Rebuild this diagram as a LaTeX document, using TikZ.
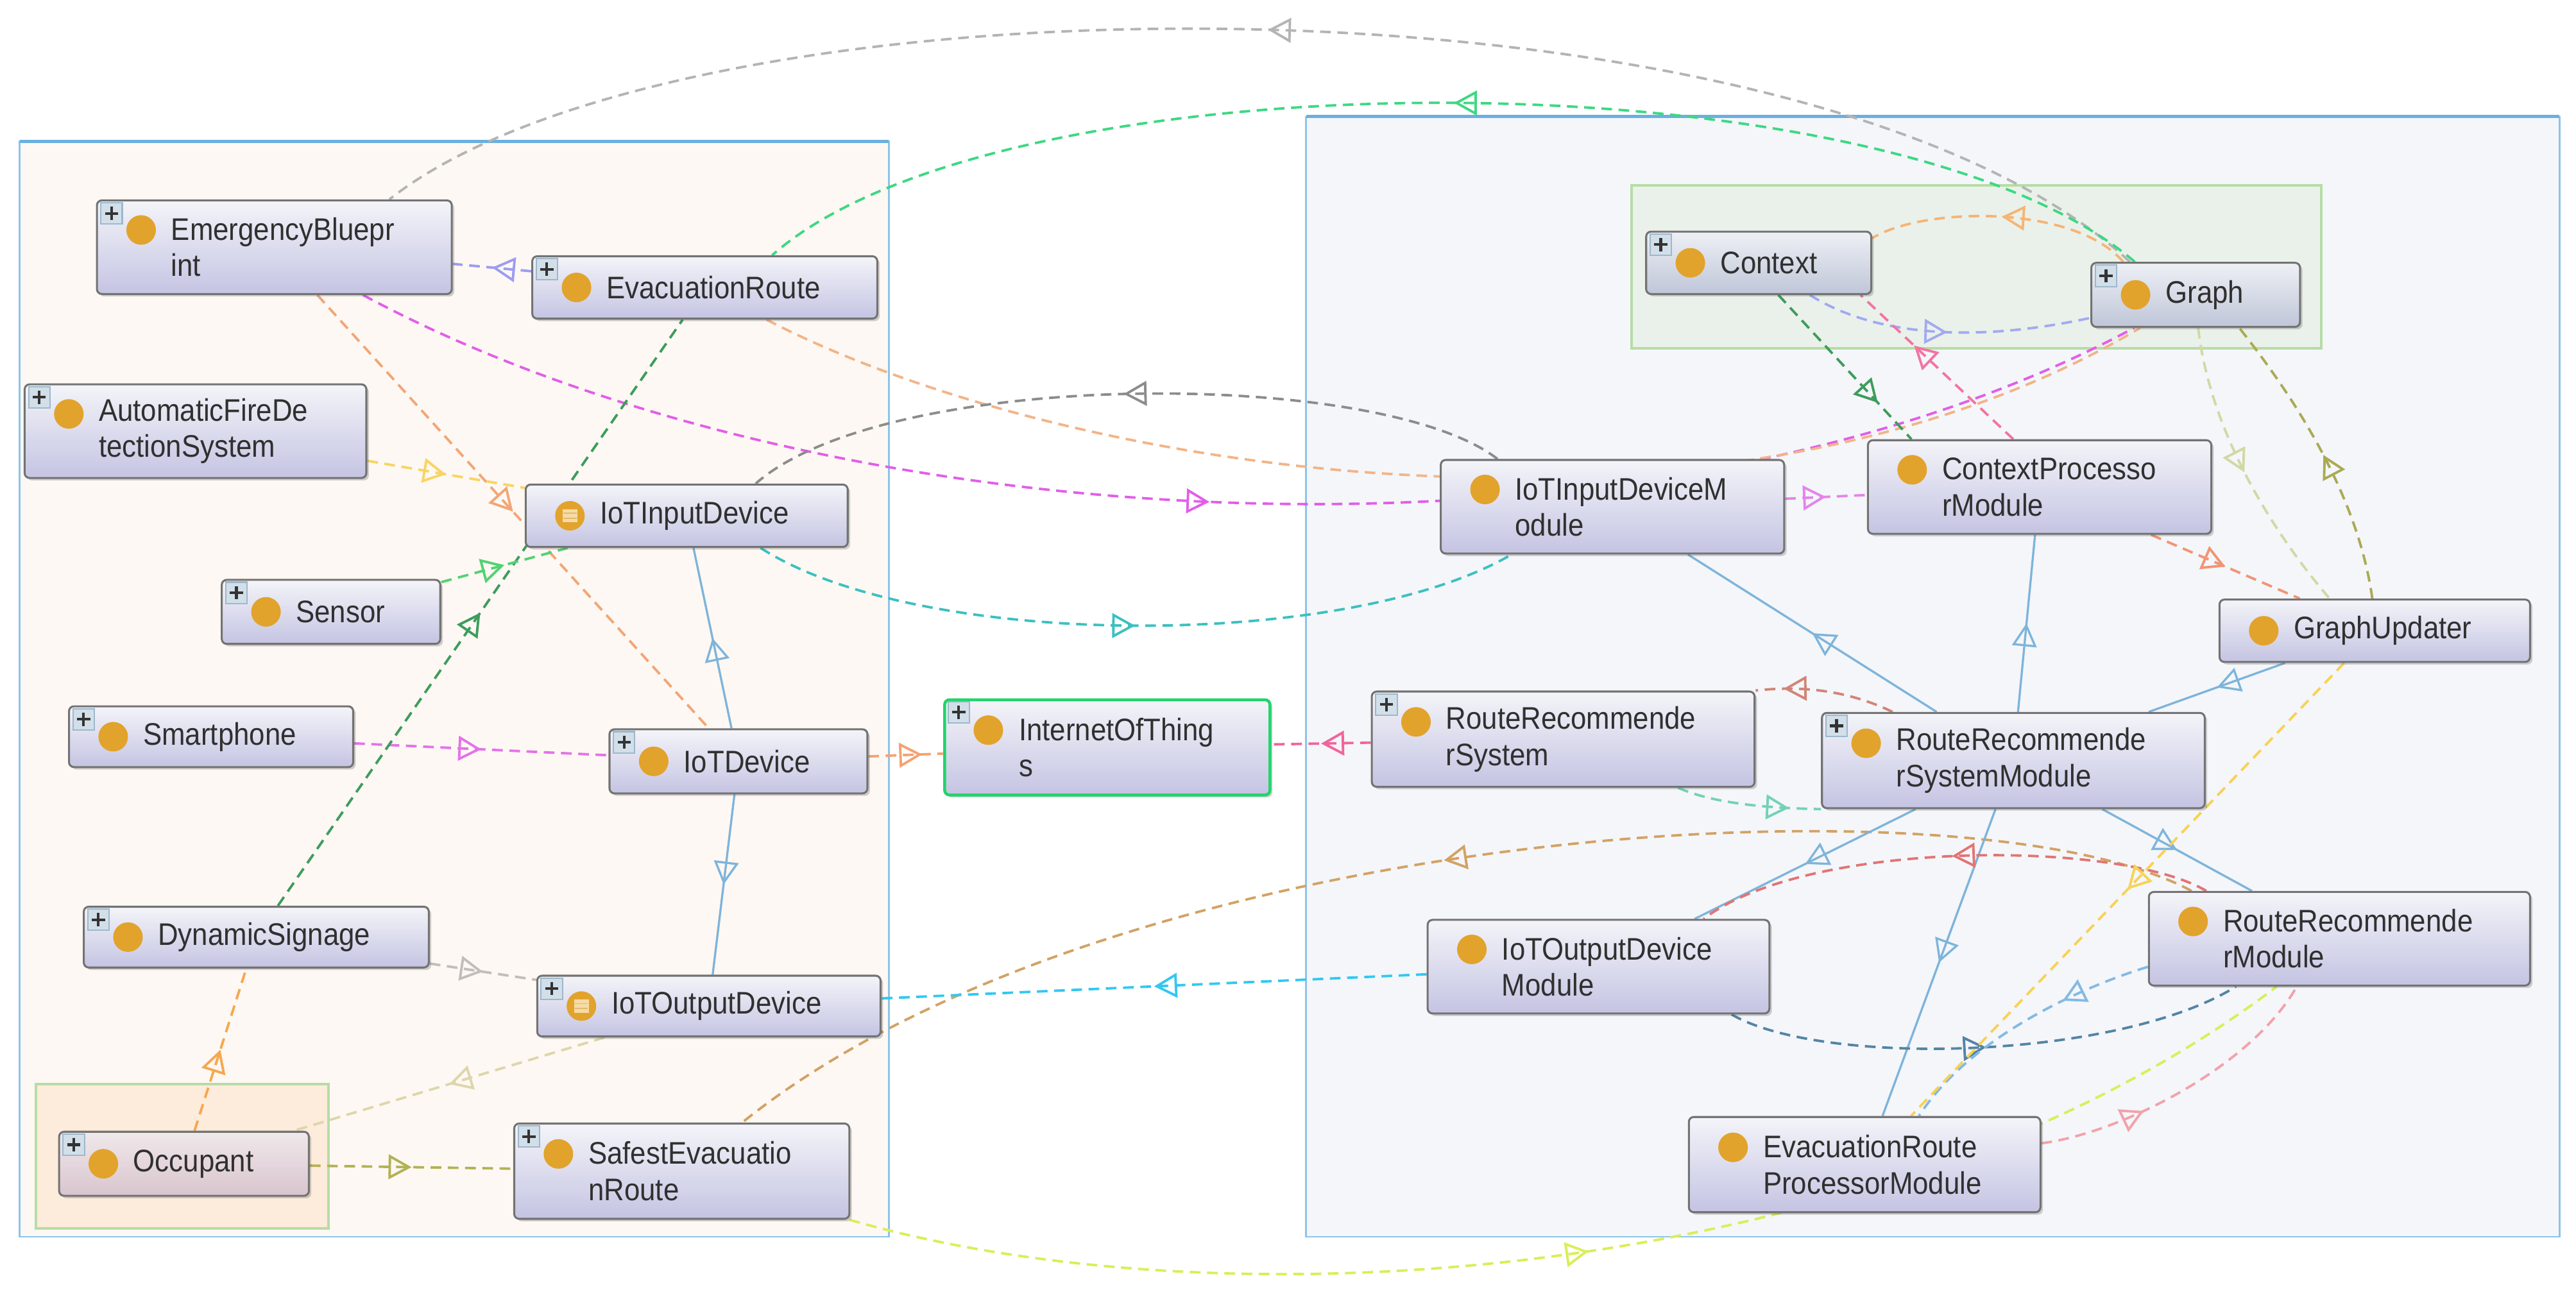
\documentclass[tikz,border=0pt]{standalone}
\usepackage{fontspec}
\newfontfamily\lblfont{Liberation Sans}[FakeStretch=0.9]
\usetikzlibrary{arrows.meta,decorations.markings,calc,shadows}
\pgfdeclarelayer{bg}
\pgfdeclarelayer{edges}
\pgfsetlayers{bg,edges,main}
\definecolor{lbox}{HTML}{FDF8F3}
\definecolor{rbox}{HTML}{F4F6FA}
\definecolor{boxbd}{HTML}{8CC4EA}
\definecolor{boxtop}{HTML}{6AB0E0}
\definecolor{gbox}{HTML}{EAF1EA}
\definecolor{gboxbd}{HTML}{B6DCA6}
\definecolor{obox}{HTML}{FDEBDB}
\definecolor{ntop}{HTML}{F4F4F9}
\definecolor{nbot}{HTML}{C4C4E3}
\definecolor{nbd}{HTML}{737373}
\definecolor{ctop}{HTML}{EEF0F5}
\definecolor{cbot}{HTML}{BFC6D8}
\definecolor{otop}{HTML}{F0E8EB}
\definecolor{obot}{HTML}{D8C5CD}
\definecolor{dotc}{HTML}{E2A32C}
\definecolor{txt}{HTML}{303030}
\definecolor{plusbg}{HTML}{D2DFE9}
\definecolor{plusbd}{HTML}{9DB8CC}
\definecolor{iotg}{HTML}{22D46C}
\definecolor{eqc}{HTML}{F6DBA4}
\definecolor{eql}{HTML}{E2B870}
% edge colours
\definecolor{cGrayArc}{HTML}{B4B4B4}
\definecolor{cGreen}{HTML}{3DD882}
\definecolor{cLav}{HTML}{9C9CF2}
\definecolor{cMag}{HTML}{E25EE8}
\definecolor{cOrgL}{HTML}{F2B488}
\definecolor{cOrg}{HTML}{F2A676}
\definecolor{cYel}{HTML}{F8D462}
\definecolor{cGrayD}{HTML}{8C8C8C}
\definecolor{cTeal}{HTML}{3CC0C0}
\definecolor{cBlue}{HTML}{7EB4DA}
\definecolor{cMagB}{HTML}{E472EA}
\definecolor{cOrgB}{HTML}{F5A272}
\definecolor{cPink}{HTML}{F2649C}
\definecolor{cGrayL}{HTML}{C4BCBC}
\definecolor{cOrgC}{HTML}{F5A850}
\definecolor{cKhaki}{HTML}{DDD6AA}
\definecolor{cOlive}{HTML}{B2B254}
\definecolor{cDGreen}{HTML}{3E9C5C}
\definecolor{cGreenB}{HTML}{52D272}
\definecolor{cTan}{HTML}{D2A264}
\definecolor{cYG}{HTML}{DAEE56}
\definecolor{cCyan}{HTML}{32C8F2}
\definecolor{cOrgA}{HTML}{F6B474}
\definecolor{cLavB}{HTML}{A2AAF2}
\definecolor{cPinkB}{HTML}{F274A2}
\definecolor{cMagC}{HTML}{E484EA}
\definecolor{cOliveL}{HTML}{D2D8A4}
\definecolor{cOliveD}{HTML}{AAAA54}
\definecolor{cOrgR}{HTML}{F29474}
\definecolor{cRedB}{HTML}{D28474}
\definecolor{cTealG}{HTML}{74D2B2}
\definecolor{cRed}{HTML}{E27474}
\definecolor{cSlate}{HTML}{5484A4}
\definecolor{cLBlue}{HTML}{84BAE2}
\definecolor{cYelB}{HTML}{F8D254}
\definecolor{cPinkL}{HTML}{F2A2AA}
\tikzset{
  cls/.style={rectangle, rounded corners=3pt, draw=nbd, line width=1.2pt,
    top color=ntop, bottom color=nbot, inner sep=0pt,
    drop shadow={shadow xshift=1.5pt, shadow yshift=-1.5pt, opacity=0.25, fill=black!70}},
  ctxcls/.style={top color=ctop, bottom color=cbot},
  occcls/.style={top color=otop, bottom color=obot},
  iotcls/.style={draw=iotg, line width=1.8pt},
  lbl/.style={anchor=west, align=left, inner sep=0pt, text=txt,
    font=\lblfont\fontsize{19}{22}\selectfont},
  edash/.style={line width=1.5pt, dash pattern=on 6.5pt off 4pt},
  esolid/.style={line width=1.3pt},
  midarr/.style={postaction={decorate, decoration={markings,
    mark=at position #1 with {\pgfsetdash{}{0pt}\arrow{Triangle[open,length=14pt,width=15pt]}}}}},
  midarr/.default=0.5
}
\newcommand\cls[7][]{%
  \node[cls,minimum width={(#5-#3)*1pt},minimum height={(#6-#4)*1pt},#1] (#2) at ({(#3+#5)/2},{(#4+#6)/2}) {};
  \node[lbl] (#2-t) at ({#3+45},{(#4+#6)/2}) {#7};
}
\newcommand\dotic[2]{\fill[dotc] ($(#1.west)+(27.5,#2)$) circle (9pt);}
\newcommand\plusic[1]{%
  \draw[draw=plusbd, fill=plusbg, line width=0.8pt] ($(#1.north west)+(3,2)$) rectangle ++(13,13);
  \draw[line width=1.6pt, black!80] ($(#1.north west)+(9.5,4.5)$) -- ++(0,8) ($(#1.north west)+(5.5,8.5)$) -- ++(8,0);
}
\newcommand\eqic[1]{%
  \fill[eqc] ($(#1.west)+(23,-4)$) rectangle ++(9,8);
  \draw[eql, line width=0.6pt] ($(#1.west)+(23.5,-1.5)$) -- ++(8,0) ($(#1.west)+(23.5,1.5)$) -- ++(8,0);
}
\begin{document}
\begin{tikzpicture}[x=1pt,y=-1pt]
\useasboundingbox (0,0) rectangle (1568,790.44);
\begin{pgfonlayer}{bg}
\fill[white] (0,0) rectangle (1568,790.44);
\draw[fill=lbox, draw=boxbd, line width=1pt] (12,86) rectangle (541,753);
\draw[boxtop, line width=2pt] (12,86) -- (541,86);
\draw[fill=rbox, draw=boxbd, line width=1pt] (795,71) rectangle (1558,753);
\draw[boxtop, line width=2pt] (795,71) -- (1558,71);
\draw[fill=gbox, draw=gboxbd, line width=1.6pt] (993,113) rectangle (1413,212);
\draw[fill=obox, draw=gboxbd, line width=1.6pt] (22,660) rectangle (200,748);
\end{pgfonlayer}

% ---------- class nodes ----------
\cls{EB}{59}{122}{275}{179}{EmergencyBluepr\\int}
\cls{ER}{324}{156}{534}{194}{EvacuationRoute}
\cls{AF}{15}{234}{223}{291}{AutomaticFireDe\\tectionSystem}
\cls{IID}{320}{295}{516}{333}{IoTInputDevice}
\cls{SE}{135}{353}{268}{392}{Sensor}
\cls{SP}{42}{430}{215}{467}{Smartphone}
\cls{ID}{371}{444}{528}{483}{IoTDevice}
\cls[iotcls]{IOT}{575}{426}{773}{484}{InternetOfThing\\s}
\cls{DS}{51}{552}{261}{589}{DynamicSignage}
\cls{IOD}{327}{594}{536}{631}{IoTOutputDevice}
\cls[occcls]{OC}{36}{689}{188}{728}{Occupant}
\cls{SER}{313}{684}{517}{742}{SafestEvacuatio\\nRoute}
\cls[ctxcls]{CX}{1002}{141}{1139}{179}{Context}
\cls[ctxcls]{GR}{1273}{160}{1400}{199}{Graph}
\cls{IIDM}{877}{280}{1086}{337}{IoTInputDeviceM\\odule}
\cls{CPM}{1137}{268}{1346}{325}{ContextProcesso\\rModule}
\cls{GU}{1351}{365}{1540}{403}{GraphUpdater}
\cls{RRS}{835}{421}{1068}{479}{RouteRecommende\\rSystem}
\cls{RRSM}{1109}{434}{1342}{492}{RouteRecommende\\rSystemModule}
\cls{IODM}{869}{560}{1077}{617}{IoTOutputDevice\\Module}
\cls{RRM}{1308}{543}{1540}{600}{RouteRecommende\\rModule}
\cls{ERPM}{1028}{680}{1242}{738}{EvacuationRoute\\ProcessorModule}

% icons
\dotic{EB}{-10.5}\dotic{ER}{0}\dotic{AF}{-10.5}\dotic{IID}{0}\dotic{SE}{0}
\dotic{SP}{0}\dotic{ID}{0}\dotic{IOT}{-10.5}\dotic{DS}{0}\dotic{IOD}{0}
\dotic{OC}{0}\dotic{SER}{-10.5}\dotic{CX}{0}\dotic{GR}{0}\dotic{IIDM}{-10.5}
\dotic{CPM}{-10.5}\dotic{GU}{0}\dotic{RRS}{-10.5}\dotic{RRSM}{-10.5}
\dotic{IODM}{-10.5}\dotic{RRM}{-10.5}\dotic{ERPM}{-10.5}
\eqic{IID}\eqic{IOD}
\plusic{EB}\plusic{ER}\plusic{AF}\plusic{SE}\plusic{SP}\plusic{ID}\plusic{IOT}
\plusic{DS}\plusic{IOD}\plusic{OC}\plusic{SER}\plusic{CX}\plusic{GR}
\plusic{RRS}\plusic{RRSM}

% ---------- connectors ----------
\begin{pgfonlayer}{edges}
\draw[edash, cGrayArc, midarr] ($(GR.north west)+(24,0)$) .. controls (1100,-23) and (420,-23) .. ($(EB.north)+(70,0)$);
\draw[edash, cGreen, midarr] ($(GR.north west)+(27,0)$) .. controls (1150,31) and (610,31) .. ($(ER.north)+(41,0)$);
\draw[edash, cLav, midarr] (ER) -- (EB);
\draw[edash, cMag, midarr=0.48] (EB) .. controls (500,330) and (1000,360) .. (GR);
\draw[edash, cOrgL, midarr=0.53] (ER) .. controls (650,290) and (1050,350) .. (GR);
\draw[edash, cOrg, midarr] (EB) -- (ID);
\draw[edash, cYel, midarr] (AF) -- (IID);
\draw[edash, cGrayD, midarr] ($(IIDM.north)+(-70,0)$) .. controls (840,224) and (540,224) .. ($(IID.north)+(42,0)$);
\draw[edash, cTeal, midarr] ($(IID.south)+(45,0)$) .. controls (560,396) and (820,396) .. ($(IIDM.south)+(-61.5,0)$);
\draw[esolid, cBlue, midarr] (ID) -- (IID);
\draw[esolid, cBlue, midarr] (ID) -- (IOD);
\draw[edash, cMagB, midarr] (SP) -- (ID);
\draw[edash, cOrgB, midarr=0.72] (ID) -- (IOT);
\draw[edash, cPink, midarr] (RRS) -- (IOT);
\draw[edash, cGrayL, midarr] (DS) -- (IOD);
\draw[edash, cOrgC, midarr] (OC) -- (DS);
\draw[edash, cKhaki, midarr] (IOD) -- (OC);
\draw[edash, cOlive, midarr] (OC) -- (SER);
\draw[edash, cDGreen, midarr] (DS) -- (ER);
\draw[edash, cGreenB, midarr] (SE) -- (IID);
\draw[edash, cTan, midarr] ($(RRM.north)+(-90,0)$) .. controls (1200,470) and (680,500) .. (SER);
\draw[edash, cYG, midarr] (SER) .. controls (750,810) and (1150,780) .. (RRM);
\draw[edash, cCyan, midarr] (IODM) -- (IOD);
% right part
\draw[edash, cOrgA, midarr] ($(GR.north west)+(20,0)$) .. controls (1262,124) and (1170,126) .. ($(CX.east)+(0,-15)$);
\draw[edash, cLavB, midarr] (CX) .. controls (1150,210) and (1220,205) .. (GR);
\draw[edash, cPinkB, midarr=0.65] ($(CPM.north)+(-16,0)$) -- ($(CX.south)+(62,0)$);
\draw[edash, cDGreen, midarr=0.75] ($(CX.south)+(12,0)$) -- ($(CPM.north)+(-78,0)$);
\draw[edash, cMagC, midarr] (IIDM) -- (CPM);
\draw[edash, cOliveL, midarr] ($(GR.south)+(1.5,0)$) .. controls (1345,260) and (1380,320) .. ($(GU.north)+(-27.5,0)$);
\draw[edash, cOliveD, midarr] ($(GU.north)+(-1.5,0)$) .. controls (1435,300) and (1395,240) .. ($(GR.south)+(26.5,0)$);
\draw[edash, cOrgR, midarr] (CPM) -- (GU);
\draw[esolid, cBlue, midarr] (RRSM) -- (IIDM);
\draw[esolid, cBlue, midarr] (RRSM) -- (CPM);
\draw[esolid, cBlue, midarr] (GU) -- (RRSM);
\draw[esolid, cBlue, midarr] (RRSM) -- (IODM);
\draw[esolid, cBlue, midarr] (RRSM) -- (ERPM);
\draw[esolid, cBlue, midarr] (RRSM) -- (RRM);
\draw[edash, cRedB, midarr=0.8] ($(RRSM.north)+(-73.5,0)$) .. controls (1120,418) and (1090,418) .. (RRS.north east);
\draw[edash, cTealG, midarr=0.78] ($(RRS.south)+(70,0)$) .. controls (1045,490) and (1080,492) .. (RRSM.south west);
\draw[edash, cRed, midarr] ($(RRM.north)+(-81,0)$) .. controls (1290,511) and (1100,511) .. ($(IODM.north)+(64,0)$);
\draw[edash, cSlate, midarr] ($(IODM.south)+(81,0)$) .. controls (1110,650) and (1290,645) .. ($(RRM.south)+(-63,0)$);
\draw[edash, cLBlue, midarr=0.33] ($(RRM.south west)+(0,-12)$) .. controls (1270,600) and (1200,630) .. ($(ERPM.north)+(33,0)$);
\draw[edash, cYelB, midarr] (GU) -- (ERPM);
\draw[edash, cPinkL, midarr=0.35] ($(ERPM.east)+(0,-13)$) .. controls (1290,690) and (1370,650) .. ($(RRM.south)+(-26,0)$);
\end{pgfonlayer}
\end{tikzpicture}
\end{document}
